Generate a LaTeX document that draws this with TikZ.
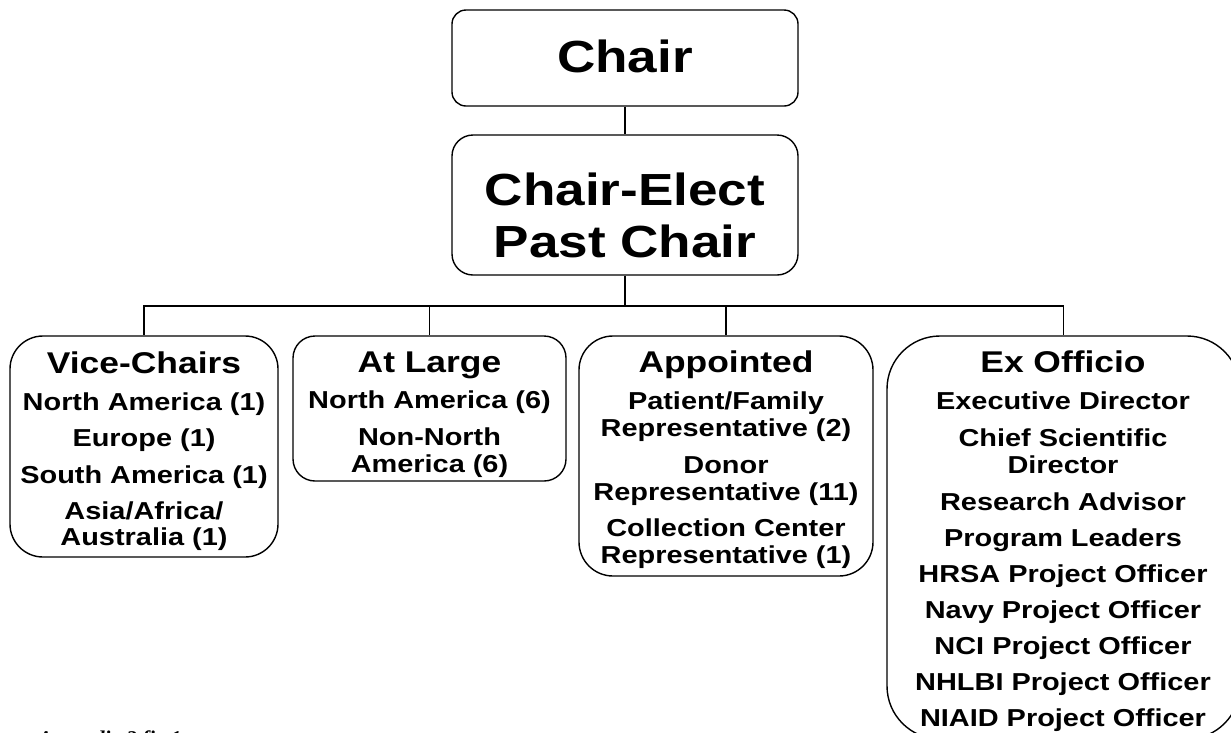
\documentclass[tikz,border=0pt]{standalone}
\usepackage{fontspec}
\newfontfamily\orgsans[FakeStretch=1.18]{Liberation Sans}
\newfontfamily\notefont{Liberation Serif}

\tikzset{
  orgbox/.style={draw, line width=1.4pt, inner sep=0pt},
  link/.style={line width=1.4pt},
  bigtext/.style={font=\orgsans\bfseries\fontsize{45}{52}\selectfont, anchor=base, inner sep=0pt},
  headtext/.style={font=\orgsans\bfseries\fontsize{30}{36}\selectfont, anchor=base, inner sep=0pt},
  itemtext/.style={font=\orgsans\bfseries\fontsize{24.5}{27}\selectfont, anchor=base, inner sep=0pt}
}

\begin{document}
\begin{tikzpicture}[x=1pt,y=-1pt]
\useasboundingbox (0,0) rectangle (1231,732);

% top of the chart
\node[orgbox, minimum width=346pt, minimum height=96pt, rounded corners=14pt] (chair) at (625,58) {};
\node[bigtext] (chairtxt) at (625,72) {Chair};
\node[orgbox, minimum width=346pt, minimum height=140pt, rounded corners=21pt] (elect) at (625,205) {};
\node[bigtext] (electtxt) at (625,205) {Chair-Elect};
\node[bigtext] (pasttxt) at (625,257) {Past Chair};

% the four groups
\node[orgbox, minimum width=268pt, minimum height=221pt, rounded corners=33pt] (vice) at (144,446.5) {};
\node[headtext] (vicehead) at (144,373) {Vice-Chairs};
\node[itemtext] (vicea) at (144,410) {North America (1)};
\node[itemtext] (viceb) at (144,446.5) {Europe (1)};
\node[itemtext] (vicec) at (144,483) {South America (1)};
\node[itemtext] (viced) at (144,519) {Asia/Africa/};
\node[itemtext] (vicee) at (144,545.5) {Australia (1)};

\node[orgbox, minimum width=273pt, minimum height=145pt, rounded corners=22pt] (large) at (429.5,408.5) {};
\node[headtext] (largehead) at (429.5,372) {At Large};
\node[itemtext] (largea) at (429.5,408.5) {North America (6)};
\node[itemtext] (largeb) at (429.5,445.5) {Non-North};
\node[itemtext] (largec) at (429.5,472) {America (6)};

\node[orgbox, minimum width=294pt, minimum height=240pt, rounded corners=34pt] (appt) at (726,456) {};
\node[headtext] (appthead) at (726,372) {Appointed};
\node[itemtext] (appta) at (726,409) {Patient/Family};
\node[itemtext] (apptb) at (726,436) {Representative (2)};
\node[itemtext] (apptc) at (726,473) {Donor};
\node[itemtext] (apptd) at (726,500) {Representative (11)};
\node[itemtext] (appte) at (726,536.5) {Collection Center};
\node[itemtext] (apptf) at (726,563) {Representative (1)};

\node[orgbox, minimum width=353pt, minimum height=403pt, rounded corners=53pt] (exof) at (1063.5,537.5) {};
\node[headtext] (exofhead) at (1063,372) {Ex Officio};
\node[itemtext] (exofa) at (1063,409) {Executive Director};
\node[itemtext] (exofb) at (1063,446) {Chief Scientific};
\node[itemtext] (exofc) at (1063,473) {Director};
\node[itemtext] (exofd) at (1063,510) {Research Advisor};
\node[itemtext] (exofe) at (1063,546) {Program Leaders};
\node[itemtext] (exoff) at (1063,582) {HRSA Project Officer};
\node[itemtext] (exofg) at (1063,618) {Navy Project Officer};
\node[itemtext] (exofh) at (1063,654) {NCI Project Officer};
\node[itemtext] (exofi) at (1063,690) {NHLBI Project Officer};
\node[itemtext] (exofj) at (1063,726) {NIAID Project Officer};

% connectors
\coordinate (bar) at (625,306);
\draw[link] (chair) -- (elect);
\draw[link] (elect) -- (bar);
\draw[link] (bar) -| (vice);
\draw[link] (bar) -| (large);
\draw[link] (bar) -| (appt);
\draw[link] (bar) -| (exof);

% footer, cut by the page edge
\node[font=\notefont\bfseries\itshape\fontsize{21}{24}\selectfont, anchor=base west, inner sep=0pt] (footer) at (38,745) {Appendix 3 fig 1};
\end{tikzpicture}
\end{document}
